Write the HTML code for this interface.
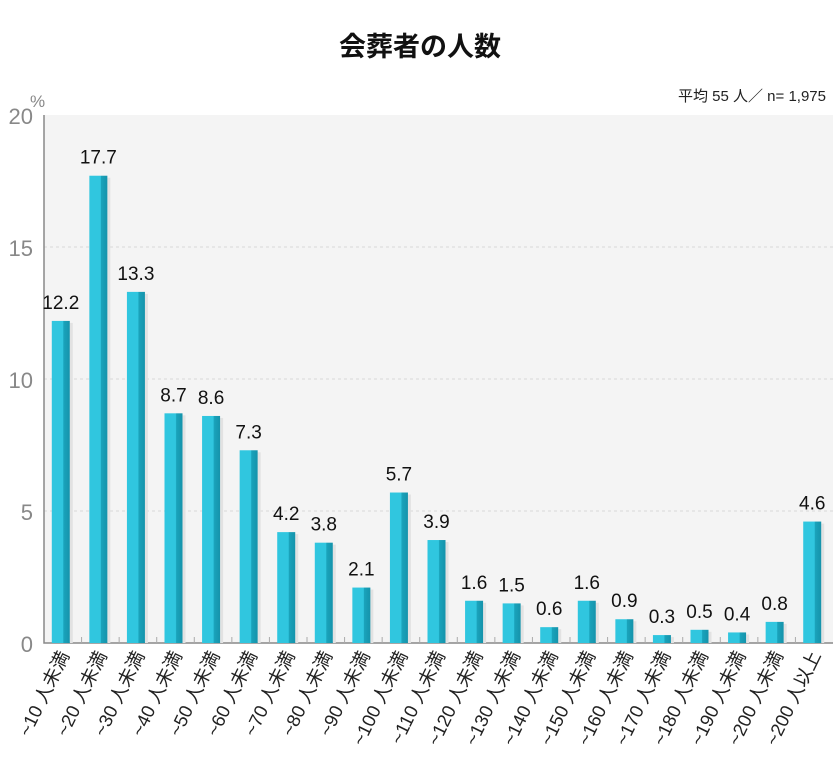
<!DOCTYPE html>
<html><head><meta charset="utf-8"><style>
body{margin:0;background:#fff;}
svg{display:block;font-family:"Liberation Sans","Noto Sans CJK JP",sans-serif;}
</style></head><body>
<svg id="c" width="840" height="776" viewBox="0 0 840 776">
<defs>
<linearGradient id="g" x1="0" x2="1" y1="0" y2="0">
<stop offset="0" stop-color="#30c6df"/><stop offset="0.62" stop-color="#30c6df"/>
<stop offset="0.66" stop-color="#1aa3bb"/><stop offset="1" stop-color="#1593ab"/>
</linearGradient>
</defs>
<text x="420" y="56" text-anchor="middle" font-size="27" font-weight="bold" fill="#111">会葬者の人数</text>
<text x="826" y="101" text-anchor="end" font-size="15" fill="#222">平均 55 人／ n= 1,975</text>
<text x="30" y="107" font-size="17" fill="#888">%</text>
<rect x="44" y="115" width="789" height="528" fill="#f4f4f4"/>
<g id="grid"></g><g id="bars"></g><g id="xl"></g>
</svg>
<script>
const categories=["~10 人未満","~20 人未満","~30 人未満","~40 人未満","~50 人未満","~60 人未満","~70 人未満","~80 人未満","~90 人未満","~100 人未満","~110 人未満","~120 人未満","~130 人未満","~140 人未満","~150 人未満","~160 人未満","~170 人未満","~180 人未満","~190 人未満","~200 人未満","~200 人以上"];
const values=[12.2,17.7,13.3,8.7,8.6,7.3,4.2,3.8,2.1,5.7,3.9,1.6,1.5,0.6,1.6,0.9,0.3,0.5,0.4,0.8,4.6];
const yTicks=[0,5,10,15,20];
const ns="http://www.w3.org/2000/svg";
const x0=44,x1=833,yB=643,yT=115,yMax=20;
const step=(x1-x0)/categories.length;
const y=v=>yB-(v/yMax)*(yB-yT);
const cx=i=>x0+step*(i+0.5)-2;
function mk(t,a,p){const e=document.createElementNS(ns,t);for(const k in a)e.setAttribute(k,a[k]);p.appendChild(e);return e;}
const grid=document.getElementById('grid'),bars=document.getElementById('bars'),xl=document.getElementById('xl');
yTicks.forEach(t=>{
  if(t>0&&t<yMax){const l=mk('line',{x1:x0,x2:x1,y1:y(t),y2:y(t),stroke:'#d8d8d8','stroke-dasharray':'3,3'},grid);
  
  }
  const tx=mk('text',{x:33,y:y(t)+9,'text-anchor':'end','font-size':22,fill:'#888'},grid);tx.textContent=t;
  
  
});
const ax=mk('path',{d:`M${x0} ${yT}V${yB}H${x1}`,stroke:'#888','stroke-width':1.5,fill:'none'},grid);


for(let i=1;i<categories.length;i++){const tk=mk('line',{x1:x0+step*i,x2:x0+step*i,y1:yB,y2:yB-6,stroke:'#aaa'},grid);

}
values.forEach((v,i)=>{
  const bw=18,bx=cx(i)-bw/2;
  const s=mk('rect',{x:bx+bw,y:y(v)+2,width:3,height:yB-y(v)-2,fill:'#e2e2e2'},bars);
  
  
  const r=mk('rect',{x:bx,y:y(v),width:bw,height:yB-y(v),fill:'url(#g)'},bars);
  
  
  const t=mk('text',{x:cx(i),y:y(v)-12,'text-anchor':'middle','font-size':19,fill:'#111'},bars);t.textContent=v.toFixed(1);
  
  
  const L=mk('text',{x:0,y:0,'text-anchor':'end','font-size':18.5,fill:'#222',transform:`translate(${cx(i)+9},${yB+12}) rotate(-64)`},xl);L.textContent=categories[i];
  
  
});
</script>
</body></html>
